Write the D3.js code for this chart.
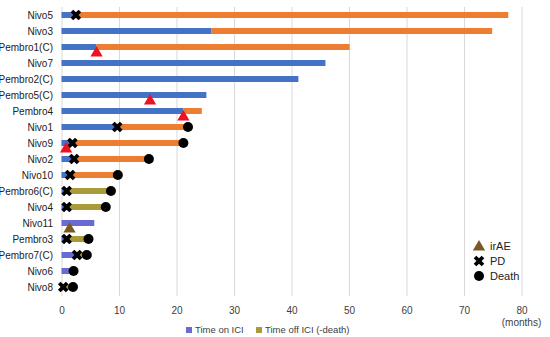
<!DOCTYPE html>
<html>
<head>
<meta charset="utf-8">
<script src="https://cdn.jsdelivr.net/npm/d3@7"></script>
<style>
  body { margin: 0; background: #fff; }
  svg { font-family: "Liberation Sans", Arial, sans-serif; }
</style>
</head>
<body>
<div id="chart"></div>
<script>
// patients, top to bottom
const categories = ["Nivo5", "Nivo3", "Pembro1(C)", "Nivo7", "Pembro2(C)", "Pembro5(C)", "Pembro4", "Nivo1", "Nivo9",
  "Nivo2", "Nivo10", "Pembro6(C)", "Nivo4", "Nivo11", "Pembro3", "Pembro7(C)", "Nivo6", "Nivo8"];
// months
const timeOnICI = [2.5, 26.1, 6.1, 45.9, 41.2, 25.2, 21.2, 9.7, 1.9, 2.2, 1.5, 0.9, 0.9, 5.7, 0.9, 2.7, 1.4, 0.3];
const timeOffICI = [75.2, 48.8, 44.0, 0, 0, 0, 3.2, 12.3, 19.3, 13.0, 8.3, 7.7, 6.8, 0, 3.8, 1.7, 0.7, 1.7];
const irAE = [null, null, 6.1, null, null, 15.4, 21.2, null, 0.8, null, null, null, null, 1.4, null, null, null, null];
const pd = [2.5, null, null, null, null, null, null, 9.7, 1.9, 2.2, 1.5, 0.9, 0.9, null, 0.9, 2.7, null, 0.3];
const death = [null, null, null, null, null, null, null, 22.0, 21.2, 15.2, 9.8, 8.6, 7.7, null, 4.7, 4.4, 2.1, 2.0];
const xTicks = [0, 10, 20, 30, 40, 50, 60, 70, 80];

window.addEventListener('load', function () {
    let width = 550;
    let height = 337;
    // lower rows of the original picture came out in different shades
    let paleFrom = categories.indexOf("Pembro6(C)");

    let x = d3.scaleLinear().domain([0, 80]).range([61.5, 521.5]);
    let y = d3.scalePoint().domain(categories).range([15, 287]);

    let svg = d3.select('#chart').append('svg').attr('width', width).attr('height', height);

    // gridlines
    svg.append('g')
        .attr('transform', 'translate(0,296)')
        .call(d3.axisBottom(x).tickValues(xTicks).tickSize(-289).tickFormat(''))
        .call(g => g.select('.domain').remove())
        .call(g => g.selectAll('line').attr('stroke', '#d9d9d9').attr('stroke-width', 1));

    // x labels
    svg.append('g')
        .attr('transform', 'translate(0,304)')
        .call(d3.axisBottom(x).tickValues(xTicks).tickSize(0))
        .call(g => g.select('.domain').remove())
        .call(g => g.selectAll('text').attr('font-size', '10px').attr('fill', '#404040')
            .attr('font-family', '"Liberation Sans", Arial, sans-serif'));
    svg.append('text').text('(months)').attr('x', x(80)).attr('y', 326)
        .attr('text-anchor', 'middle').attr('font-size', '10px').attr('fill', '#404040');

    // y labels
    svg.append('g')
        .attr('transform', 'translate(53,0)')
        .call(d3.axisLeft(y).tickSize(0).tickPadding(0))
        .call(g => g.select('.domain').remove())
        .call(g => g.selectAll('text').attr('font-size', '10px').attr('fill', '#222')
            .attr('font-family', '"Liberation Sans", Arial, sans-serif'));

    let rows = categories.map((c, i) => ({ c, i, on: timeOnICI[i], off: timeOffICI[i] }));
    let barH = 6;

    svg.selectAll('rect.on').data(rows).enter().append('rect')
        .attr('class', 'on')
        .attr('x', x(0))
        .attr('y', d => y(d.c) - barH / 2)
        .attr('width', d => x(d.on) - x(0))
        .attr('height', barH)
        .attr('fill', d => d.i >= paleFrom ? '#6a6ad4' : '#4472c4');

    svg.selectAll('rect.off').data(rows.filter(d => d.off > 0)).enter().append('rect')
        .attr('class', 'off')
        .attr('x', d => x(d.on))
        .attr('y', d => y(d.c) - barH / 2)
        .attr('width', d => x(d.on + d.off) - x(d.on))
        .attr('height', barH)
        .attr('fill', d => d.i >= paleFrom ? '#a99a3a' : '#ed7d31');

    let cross = d3.symbol().type(d3.symbolCross).size(70);
    svg.selectAll('path.pd').data(categories.map((c, i) => [c, pd[i]]).filter(d => d[1] != null))
        .enter().append('path')
        .attr('class', 'pd')
        .attr('d', cross)
        .attr('transform', d => `translate(${x(d[1])},${y(d[0])}) rotate(45)`)
        .attr('fill', '#000');

    svg.selectAll('circle.death').data(categories.map((c, i) => [c, death[i]]).filter(d => d[1] != null))
        .enter().append('circle')
        .attr('class', 'death')
        .attr('cx', d => x(d[1]))
        .attr('cy', d => y(d[0]))
        .attr('r', 5)
        .attr('fill', '#000');

    let tri = d3.symbol().type(d3.symbolTriangle).size(65);
    svg.selectAll('path.irae').data(categories.map((c, i) => [c, irAE[i], i]).filter(d => d[1] != null))
        .enter().append('path')
        .attr('class', 'irae')
        .attr('d', tri)
        .attr('transform', d => `translate(${x(d[1])},${y(d[0]) + 6})`)
        .attr('fill', d => d[2] >= paleFrom ? '#7a5a24' : '#ee1120');

    // marker legend
    let lg = svg.append('g').attr('font-size', '11px').attr('fill', '#222');
    lg.append('path').attr('d', tri).attr('transform', 'translate(479,247)').attr('fill', '#7a5a24');
    lg.append('text').text('irAE').attr('x', 490).attr('y', 250);
    lg.append('path').attr('d', cross).attr('transform', 'translate(479,261) rotate(45)').attr('fill', '#000');
    lg.append('text').text('PD').attr('x', 490).attr('y', 265);
    lg.append('circle').attr('cx', 479).attr('cy', 276).attr('r', 5).attr('fill', '#000');
    lg.append('text').text('Death').attr('x', 490).attr('y', 280);

    // series legend
    let sl = svg.append('g').attr('font-size', '9.5px').attr('fill', '#404040');
    sl.append('rect').attr('x', 186).attr('y', 327).attr('width', 6).attr('height', 6).attr('fill', '#6a6ad4');
    sl.append('text').text('Time on ICI').attr('x', 195).attr('y', 333);
    sl.append('rect').attr('x', 256).attr('y', 327).attr('width', 6).attr('height', 6).attr('fill', '#a99a3a');
    sl.append('text').text('Time off ICI (-death)').attr('x', 265).attr('y', 333);
});
</script>
</body>
</html>
